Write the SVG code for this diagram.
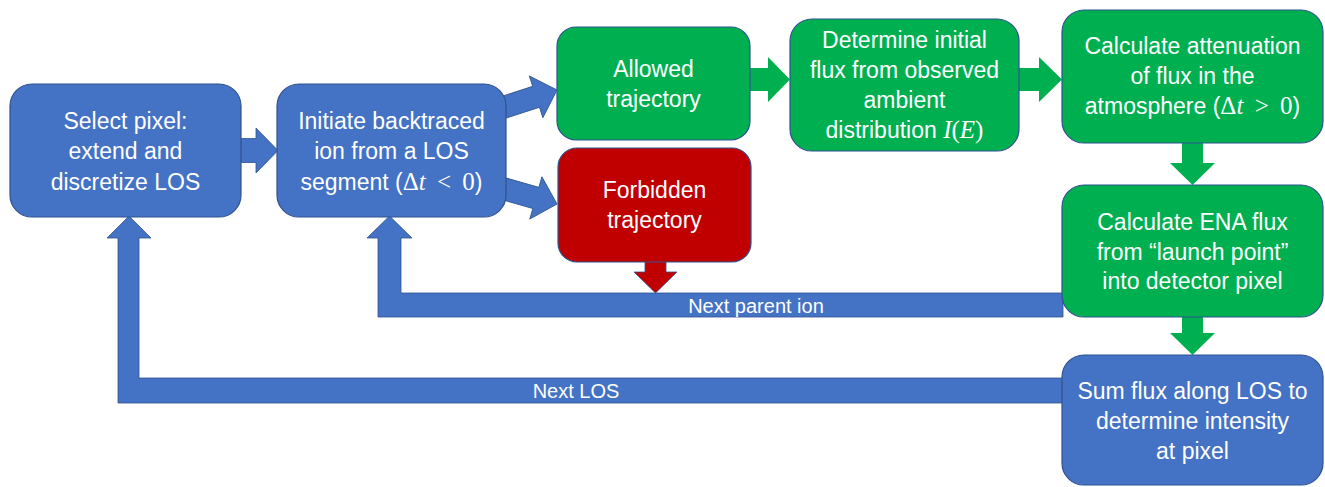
<svg xmlns="http://www.w3.org/2000/svg" width="1325" height="487" viewBox="0 0 1325 487">
<style>
.blue{fill:#4472C4;stroke:#2F528F;stroke-width:1.2}
.green{fill:#00B050;stroke:#2F528F;stroke-width:1.2}
.red{fill:#C00000;stroke:#2F528F;stroke-width:1.2}
.ab{fill:#4472C4;stroke:#2F528F;stroke-width:0.8}
.ag{fill:#00B050;stroke:none}
.ar{fill:#C00000;stroke:#2F528F;stroke-width:0.8}
text{font-family:"Liberation Sans","Noto Sans",sans-serif;font-size:23px;fill:#FFFFFF;text-anchor:middle}
.lbl{font-size:20px}
.m{font-family:"Liberation Serif","DejaVu Serif",serif;font-size:25px}
.i{font-style:italic}
</style>
<defs>
<polygon id="diag" points="0,0 -22,-22 -22,-11 -62,-11 -62,11 -22,11 -22,22"/>
</defs>
<g id="connectors">
<!-- loop: Next LOS -->
<polygon class="ab" points="1063,378 139,378 139,238 151,238 129,216 107,238 118,238 118,403 1063,403"/>
<text class="lbl" x="576" y="398">Next LOS</text>
<!-- loop: Next parent ion -->
<polygon class="ab" points="1063,293 401,293 401,238 412,238 389.5,216 367,238 378,238 378,317 1063,317"/>
<text class="lbl" x="756" y="313">Next parent ion</text>
<!-- select -> initiate -->
<polygon class="ab" points="236,138.5 256,138.5 256,128 278,150.5 256,173 256,162.5 236,162.5"/>
<!-- initiate -> allowed / forbidden -->
<use href="#diag" class="ab" transform="translate(557,90) rotate(-18)"/>
<use href="#diag" class="ab" transform="translate(557,204) rotate(16)"/>
<!-- forbidden -> loop -->
<polygon class="ar" points="645,258 666,258 666,272 677,272 655.5,293 634,272 645,272"/>
<!-- allowed -> determine -->
<polygon class="ag" points="745,68 768,68 768,57 790,79.5 768,102 768,91 745,91"/>
<!-- determine -> attenuation -->
<polygon class="ag" points="1014,68 1039,68 1039,57 1062,79.5 1039,102 1039,91 1014,91"/>
<!-- attenuation -> ENA -->
<polygon class="ag" points="1182,138 1203,138 1203,163 1215,163 1192.5,185 1170,163 1182,163"/>
<!-- ENA -> sum -->
<polygon class="ag" points="1182,312 1203,312 1203,333 1215,333 1192.5,355 1170,333 1182,333"/>
</g>
<g id="n-select">
<rect class="blue" x="10" y="84" width="231" height="133" rx="22"/>
<text x="125.5" y="129">Select pixel:</text>
<text x="125.5" y="159">extend and</text>
<text x="125.5" y="189.5">discretize LOS</text>
</g>
<g id="n-initiate">
<rect class="blue" x="277" y="84" width="229" height="133" rx="22"/>
<text x="391.5" y="129">Initiate backtraced</text>
<text x="391.5" y="159">ion from a LOS</text>
<text x="391.5" y="189.5">segment (<tspan class="m">Δ<tspan class="i">t</tspan>&#160;&#8201;&lt;&#160;&#8201;0</tspan>)</text>
</g>
<g id="n-allowed">
<rect class="green" x="557" y="27" width="193" height="113" rx="19"/>
<text x="653.5" y="77">Allowed</text>
<text x="653.5" y="107">trajectory</text>
</g>
<g id="n-forbidden">
<rect class="red" x="558" y="148" width="193" height="114" rx="19"/>
<text x="654.5" y="198">Forbidden</text>
<text x="654.5" y="228">trajectory</text>
</g>
<g id="n-determine">
<rect class="green" x="790" y="19" width="229" height="132" rx="22"/>
<text x="904.5" y="48">Determine initial</text>
<text x="904.5" y="78">flux from observed</text>
<text x="904.5" y="108">ambient</text>
<text x="904.5" y="138">distribution <tspan class="m"><tspan class="i">I</tspan>(<tspan class="i">E</tspan>)</tspan></text>
</g>
<g id="n-attenuation">
<rect class="green" x="1062" y="10" width="261" height="133" rx="22"/>
<text x="1192.5" y="54">Calculate attenuation</text>
<text x="1192.5" y="84">of flux in the</text>
<text x="1192.5" y="114">atmosphere (<tspan class="m">Δ<tspan class="i">t</tspan>&#160;&#8201;&gt;&#160;&#8201;0</tspan>)</text>
</g>
<g id="n-ena">
<rect class="green" x="1062" y="185" width="261" height="132" rx="22"/>
<text x="1192.5" y="230">Calculate ENA flux</text>
<text x="1192.5" y="260">from “launch point”</text>
<text x="1192.5" y="289">into detector pixel</text>
</g>
<g id="n-sum">
<rect class="blue" x="1062" y="355" width="261" height="130" rx="22"/>
<text x="1192.5" y="398.5">Sum flux along LOS to</text>
<text x="1192.5" y="428.5">determine intensity</text>
<text x="1192.5" y="458.5">at pixel</text>
</g>
</svg>
